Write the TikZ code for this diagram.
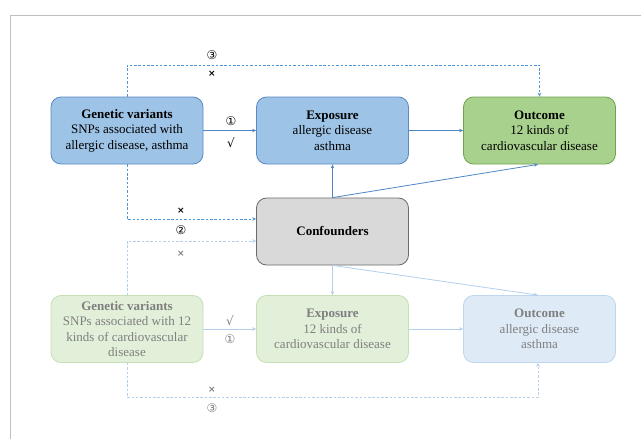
\documentclass[tikz,border=0pt]{standalone}
\usepackage{fontspec}
\setmainfont{Liberation Serif}
\newfontfamily\symfont{DejaVu Sans}
\usetikzlibrary{arrows.meta}
\definecolor{tbfill}{HTML}{9DC3E6}
\definecolor{tbdraw}{HTML}{5A8AC6}
\definecolor{gnfill}{HTML}{A9D18E}
\definecolor{gndraw}{HTML}{6EA44D}
\definecolor{cffill}{HTML}{D9D9D9}
\definecolor{cfdraw}{HTML}{6B6B6B}
\definecolor{lgfill}{HTML}{E2F0D9}
\definecolor{lgdraw}{HTML}{C5E0B4}
\definecolor{lbfill}{HTML}{DEEBF7}
\definecolor{lbdraw}{HTML}{BDD7EE}
\definecolor{arrtop}{HTML}{4E86C6}
\definecolor{dashtop}{HTML}{4F93D8}
\definecolor{arrlight}{HTML}{B4CFEC}
\definecolor{dashlight}{HTML}{B4CFEC}
\definecolor{graytxt}{HTML}{7F7F7F}
\definecolor{framecol}{HTML}{BFBFBF}
\begin{document}
\begin{tikzpicture}[x=1pt,y=-1pt,
  box/.style={rounded corners=10pt, line width=0.8pt, align=center,
    font=\fontsize{13}{15.5}\selectfont, inner sep=0pt,
    minimum width=152pt, minimum height=67pt},
  topbox/.style={box, fill=tbfill, draw=tbdraw},
  outbox/.style={box, fill=gnfill, draw=gndraw},
  confbox/.style={box, fill=cffill, draw=cfdraw},
  lgbox/.style={box, fill=lgfill, draw=lgdraw, text=graytxt},
  lbbox/.style={box, fill=lbfill, draw=lbdraw, text=graytxt},
  arrT/.style={draw=arrtop, line width=0.8pt, -{Stealth[length=4pt,width=3.5pt]}},
  arrL/.style={draw=arrlight, line width=0.8pt, -{Stealth[length=4pt,width=3.5pt]}},
  dashT/.style={draw=dashtop, line width=0.9pt, dash pattern=on 2.5pt off 1.8pt, -{Stealth[length=4pt,width=3.5pt]}},
  dashL/.style={draw=dashlight, line width=0.9pt, dash pattern=on 2.5pt off 1.8pt, -{Stealth[length=4pt,width=3.5pt]}},
  lab/.style={font=\symfont\fontsize{12}{12}\selectfont, inner sep=0pt},
  labx/.style={font=\symfont\bfseries\fontsize{9}{9}\selectfont, inner sep=0pt},
  frameline/.style={draw=framecol, line width=0.9pt}
]
\useasboundingbox (0,0) rectangle (641,439);
\fill[white] (0,0) rectangle (641,439);
% frame
\coordinate (fa) at (641,15);
\coordinate (fb) at (10,15);
\coordinate (fc) at (10,439);
\draw[frameline] (fa) -- (fb) -- (fc);

% boxes top
\node[topbox] (gv1) at (127,130.5) {\textbf{Genetic variants}\\SNPs associated with\\allergic disease, asthma};
\node[topbox] (ex1) at (332.5,130.5) {\textbf{Exposure}\\allergic disease\\asthma};
\node[outbox] (out1) at (539.5,130.5) {\textbf{Outcome}\\12 kinds of\\cardiovascular disease};
\node[confbox] (conf) at (332.5,231.5) {\textbf{Confounders}};
% boxes bottom
\node[lgbox] (gv2) at (127,329) {\textbf{Genetic variants}\\SNPs associated with 12\\kinds of cardiovascular\\disease};
\node[lgbox] (ex2) at (332.5,329) {\textbf{Exposure}\\12 kinds of\\cardiovascular disease};
\node[lbbox] (out2) at (539.5,329) {\textbf{Outcome}\\allergic disease\\asthma};

% top connectors
\draw[arrT] (gv1) -- (ex1);
\draw[arrT] (ex1) -- (out1);
\draw[arrT] (conf.north) -- (ex1.south);
\draw[arrT] (conf.north) -- ([xshift=-1.5pt]out1.south);
\coordinate (t3) at (332,65);
\draw[dashT] (gv1.north) |- (t3) -| (out1.north);
\coordinate (c2end) at ([yshift=12.5pt]conf.west);
\draw[dashT] (gv1.south) |- (c2end);

% bottom connectors
\draw[arrL] (gv2) -- (ex2);
\draw[arrL] (ex2) -- (out2);
\draw[arrL] (conf.south) -- (ex2.north);
\draw[arrL] (conf.south) -- ([xshift=-1.5pt]out2.north);
\coordinate (c2bend) at ([yshift=-9.5pt]conf.west);
\draw[dashL] (gv2.north) |- (c2bend);
\coordinate (b3) at (332,397);
\coordinate (b3end) at ([xshift=-1.5pt]out2.south);
\draw[dashL] (gv2.south) |- (b3) -| (b3end);

% labels
\node[lab] (l1t) at (231,121) {①};
\node[lab] (c1t) at (231,143) {√};
\node[lab] (l3t) at (212,55) {③};
\node[labx] (x3t) at (212,74) {×};
\node[labx] (x2t) at (181,211) {×};
\node[lab] (l2) at (181,230) {②};
\node[labx, text=graytxt] (x2b) at (181,254) {×};
\node[lab, text=graytxt] (c1b) at (230,321) {√};
\node[lab, text=graytxt] (l1b) at (230,339) {①};
\node[labx, text=graytxt] (x3b) at (212,390) {×};
\node[lab, text=graytxt] (l3b) at (212,408) {③};
\end{tikzpicture}
\end{document}
